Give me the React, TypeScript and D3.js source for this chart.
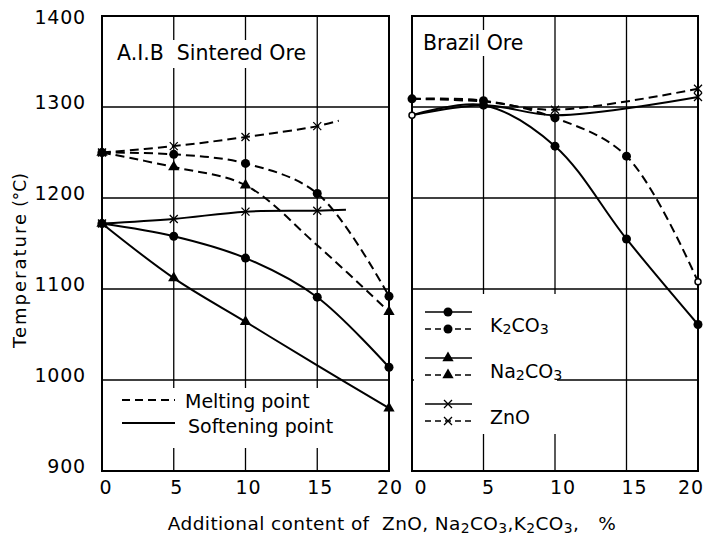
import * as d3 from "d3";

// [additive %, temperature °C, marker override ("none" | "open")]
type Pt = [number, number, string?];

const xTicks = [0, 5, 10, 15, 20];
const yTicks = [900, 1000, 1100, 1200, 1300, 1400];

// A.I.B sintered ore
const aibK2co3Melt: Pt[] = [[0, 1250], [5, 1248], [10, 1238], [15, 1205], [20, 1092]];
const aibK2co3Soft: Pt[] = [[0, 1172], [5, 1158], [10, 1134], [15, 1091], [20, 1014]];
const aibNa2co3Melt: Pt[] = [[0, 1250], [5, 1234], [10, 1214], [15, 1148, "none"], [20, 1075]];
const aibNa2co3Soft: Pt[] = [[0, 1172], [5, 1112], [10, 1064], [15, 1016, "none"], [20, 969]];
const aibZnoMelt: Pt[] = [[0, 1250], [5, 1257], [10, 1267], [15, 1279], [16.5, 1285, "none"]];
const aibZnoSoft: Pt[] = [[0, 1172], [5, 1177], [10, 1185], [15, 1186], [17, 1187, "none"]];

// Brazil ore
const brK2co3Melt: Pt[] = [[0, 1309], [5, 1307], [10, 1288], [15, 1246], [20, 1108, "open"]];
const brK2co3Soft: Pt[] = [[0, 1291, "open"], [5, 1302], [10, 1257], [15, 1155], [20, 1061]];
const brZnoMelt: Pt[] = [[0, 1309, "none"], [5, 1306, "none"], [10, 1297], [20, 1320]];
const brZnoSoft: Pt[] = [[0, 1291, "none"], [5, 1302, "none"], [10, 1291, "none"], [20, 1311]];

const legendCompounds = [
  { sym: "circle", label: ["K", "2", "CO", "3"] },
  { sym: "tri", label: ["Na", "2", "CO", "3"] },
  { sym: "cross", label: ["ZnO"] },
];

const W = 707;
const H = 540;
const FONT = "DejaVu Sans, sans-serif";

const y = d3.scaleLinear().domain([900, 1400]).range([471, 16]);
const xL = d3.scaleLinear().domain([0, 20]).range([102, 389]);
const xR = d3.scaleLinear().domain([0, 20]).range([412, 698]);

const Marker = ({ sym, cx, cy, open }: { sym: string; cx: number; cy: number; open?: boolean }) => {
  if (open) return <circle cx={cx} cy={cy} r={3} fill="#fff" stroke="#000" strokeWidth={1.5} />;
  if (sym === "circle") return <circle cx={cx} cy={cy} r={4.5} fill="#000" />;
  if (sym === "tri") {
    const p = d3.symbol(d3.symbolTriangle, 55)()!;
    return <path d={p} transform={`translate(${cx},${cy})`} fill="#000" />;
  }
  const s = 4;
  return (
    <path
      d={`M${cx - s},${cy - s}L${cx + s},${cy + s}M${cx - s},${cy + s}L${cx + s},${cy - s}`}
      stroke="#000"
      strokeWidth={1.3}
    />
  );
};

const Series = ({ pts, x, dashed, sym }: { pts: Pt[]; x: d3.ScaleLinear<number, number>; dashed: boolean; sym: string }) => {
  const line = d3
    .line<Pt>()
    .x((d) => x(d[0]))
    .y((d) => y(d[1]))
    .curve(d3.curveCatmullRom.alpha(0.5));
  return (
    <g>
      <path d={line(pts)!} fill="none" stroke="#000" strokeWidth={2} strokeDasharray={dashed ? "9,5" : undefined} />
      {pts
        .filter((d) => d[2] !== "none")
        .map((d, i) => (
          <Marker key={i} sym={sym} cx={x(d[0])} cy={y(d[1])} open={d[2] === "open"} />
        ))}
    </g>
  );
};

const Panel = ({ x, labelDx }: { x: d3.ScaleLinear<number, number>; labelDx: number[] }) => {
  const [x0, x1] = x.range();
  return (
    <g>
      {xTicks.slice(1, -1).map((t) => (
        <line key={t} x1={x(t)} x2={x(t)} y1={y(1400)} y2={y(900)} stroke="#000" strokeWidth={1.3} />
      ))}
      {yTicks.slice(1, -1).map((t) => (
        <line key={t} x1={x0} x2={x1} y1={y(t)} y2={y(t)} stroke="#000" strokeWidth={1.3} />
      ))}
      <rect x={x0} y={y(1400)} width={x1 - x0} height={y(900) - y(1400)} fill="none" stroke="#000" strokeWidth={2} />
      {xTicks.map((t, i) => (
        <text
          key={t}
          x={x(t) + labelDx[i]}
          y={488}
          textAnchor="middle"
          dominantBaseline="middle"
          fontSize={19}
          letterSpacing={1}
          fontFamily={FONT}
        >
          {t}
        </text>
      ))}
    </g>
  );
};

const Sub = ({ parts }: { parts: string[] }) => (
  <>
    {parts.map((p, i) =>
      i % 2 === 1 ? (
        <tspan key={i} dy={4} fontSize="0.75em">
          {p}
        </tspan>
      ) : (
        <tspan key={i} dy={i === 0 ? 0 : -4}>
          {p}
        </tspan>
      )
    )}
  </>
);

export default function App() {
  return (
    <svg width={W} height={H} style={{ position: "absolute", left: 0, top: 0, background: "#fff" }}>
      <rect width={W} height={H} fill="#fff" />
      <Panel x={xL} labelDx={[4, 3, 3, 3, 1]} />
      <Panel x={xR} labelDx={[9, 5, 8, 8, -7]} />

      {/* white boxes behind titles and legends */}
      <rect x={112} y={40} width={200} height={28} fill="#fff" />
      <rect x={418} y={30} width={112} height={26} fill="#fff" />
      <rect x={114} y={388} width={218} height={60} fill="#fff" />
      <rect x={414} y={294} width={143} height={140} fill="#fff" />

      <text x={117} y={60} fontSize={20.5} fontFamily={FONT}>
        A.I.B{"\u00a0\u00a0"}Sintered Ore
      </text>
      <text x={423} y={50} fontSize={20.5} fontFamily={FONT}>
        Brazil Ore
      </text>

      <Series pts={aibZnoMelt} x={xL} dashed sym="cross" />
      <Series pts={aibZnoSoft} x={xL} dashed={false} sym="cross" />
      <Series pts={aibK2co3Melt} x={xL} dashed sym="circle" />
      <Series pts={aibK2co3Soft} x={xL} dashed={false} sym="circle" />
      <Series pts={aibNa2co3Melt} x={xL} dashed sym="tri" />
      <Series pts={aibNa2co3Soft} x={xL} dashed={false} sym="tri" />

      <Series pts={brZnoMelt} x={xR} dashed sym="cross" />
      <Series pts={brZnoSoft} x={xR} dashed={false} sym="cross" />
      <Series pts={brK2co3Melt} x={xR} dashed sym="circle" />
      <Series pts={brK2co3Soft} x={xR} dashed={false} sym="circle" />

      {/* left legend */}
      <line x1={122} x2={175} y1={400} y2={400} stroke="#000" strokeWidth={2} strokeDasharray="8,5" />
      <text x={185} y={402} dominantBaseline="middle" fontSize={19} fontFamily={FONT}>
        Melting point
      </text>
      <line x1={122} x2={175} y1={423} y2={423} stroke="#000" strokeWidth={2} />
      <text x={188} y={427} dominantBaseline="middle" fontSize={19} fontFamily={FONT}>
        Softening point
      </text>

      {/* right legend */}
      {legendCompounds.map((c, i) => {
        const top = 312 + i * 46;
        return (
          <g key={i}>
            <line x1={425} x2={472} y1={top} y2={top} stroke="#000" strokeWidth={1.5} />
            <line x1={425} x2={472} y1={top + 17} y2={top + 17} stroke="#000" strokeWidth={1.5} strokeDasharray="6,4" />
            <Marker sym={c.sym} cx={448} cy={top} />
            <Marker sym={c.sym} cx={448} cy={top + 17} />
            <text x={490} y={top + 14} dominantBaseline="middle" fontSize={19} fontFamily={FONT}>
              <Sub parts={c.label} />
            </text>
          </g>
        );
      })}

      {/* y axis labels */}
      {yTicks.map((t) => (
        <text
          key={t}
          x={86}
          y={t === 1400 ? y(t) + 2 : y(t) - 4}
          textAnchor="end"
          dominantBaseline="middle"
          fontSize={19}
          letterSpacing={0.8}
          fontFamily={FONT}
        >
          {t}
        </text>
      ))}
      <text
        transform="translate(21,280) rotate(-90)"
        textAnchor="middle"
        dominantBaseline="middle"
        fontSize={18}
        letterSpacing={2}
        fontFamily={FONT}
      >
        Temperature
      </text>
      <text
        transform="translate(21,190) rotate(-90)"
        textAnchor="middle"
        dominantBaseline="middle"
        fontSize={17}
        fontFamily={FONT}
      >
        (°C)
      </text>

      <text
        x={392}
        y={525}
        textAnchor="middle"
        dominantBaseline="middle"
        fontSize={18.5}
        letterSpacing={0.4}
        fontFamily={FONT}
        style={{ whiteSpace: "pre" }}
      >
        <Sub parts={["Additional content of  ZnO, Na", "2", "CO", "3", ",K", "2", "CO", "3", ",   %"]} />
      </text>
    </svg>
  );
}
